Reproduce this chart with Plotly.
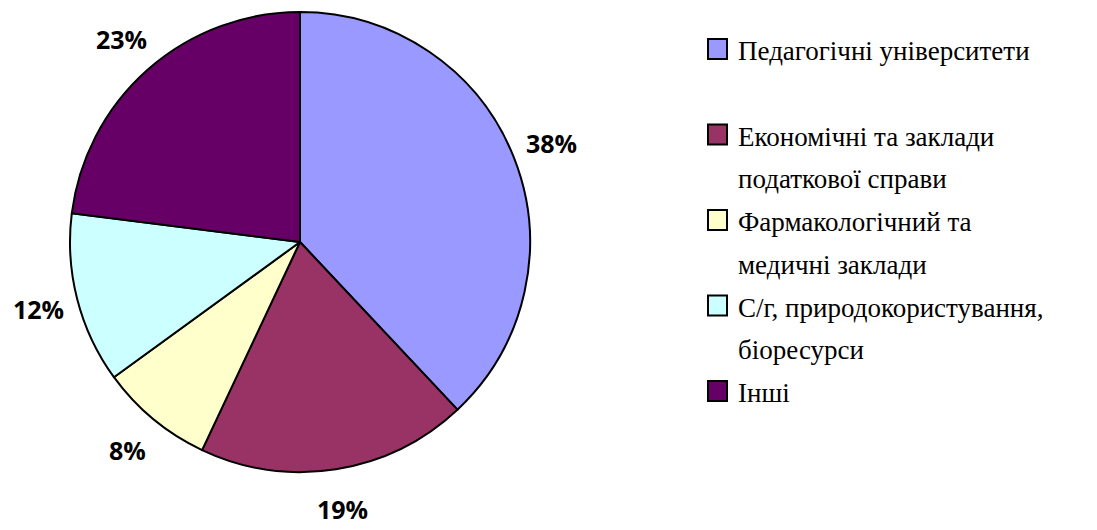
import math
import plotly.graph_objects as go

categories = [
    "Педагогічні університети",
    "Економічні та заклади<br>податкової справи",
    "Фармакологічний та<br>медичні заклади",
    "С/г, природокористування,<br>біоресурси",
    "Інші",
]
values = [38, 19, 8, 12, 23]
colors = ["#9999FF", "#993366", "#FFFFCC", "#CCFFFF", "#660066"]

W, H = 1097, 530
cx, cy, R = 300, 242, 230  # pixel centre/radius (from top-left)
SERIF = "Liberation Serif, Times New Roman, serif"

fig = go.Figure()
fig.add_trace(go.Pie(
    labels=[c.replace("<br>", " ") for c in categories],
    values=values,
    sort=False,
    direction="clockwise",
    rotation=0,
    textinfo="none",
    marker=dict(colors=colors, line=dict(color="#000000", width=2)),
    domain=dict(x=[(cx - R) / W, (cx + R) / W], y=[(H - cy - R) / H, (H - cy + R) / H]),
    showlegend=False,
    hoverinfo="label+percent",
))

annotations = []
shapes = []

# manual legend
line0, step = 49, 42.75
sq_x0, sq_x1 = 708, 727
text_x = 736
for i, (cat, col) in enumerate(zip(categories, colors)):
    slot = 2 * i
    yc = line0 + slot * step
    shapes.append(dict(
        type="rect", xref="paper", yref="paper",
        x0=sq_x0 / W, x1=sq_x1 / W,
        y0=1 - (yc + 10) / H, y1=1 - (yc - 10) / H,
        fillcolor=col, line=dict(color="#000000", width=2),
    ))
    for j, line in enumerate(cat.split("<br>")):
        ly = yc + j * step
        annotations.append(dict(
            x=text_x / W, y=1 - (ly + 2) / H, xref="paper", yref="paper",
            text=line, showarrow=False, xanchor="left", yanchor="middle",
            font=dict(family=SERIF, size=27, color="#000000"),
        ))

# percentage labels outside slices
total = sum(values)
cum = 0
label_r = 270
for v in values:
    mid = (cum + v / 2) / total * 2 * math.pi
    cum += v
    px = cx + label_r * math.sin(mid)
    py = cy - label_r * math.cos(mid)
    annotations.append(dict(
        x=px / W, y=1 - py / H, xref="paper", yref="paper",
        text="<b>%d%%</b>" % round(v / total * 100),
        showarrow=False, xanchor="center", yanchor="middle",
        font=dict(family="Open Sans", size=25, color="#000000"),
    ))

fig.update_layout(
    width=W, height=H,
    margin=dict(l=0, r=0, t=0, b=0),
    font=dict(family=SERIF, color="#000000"),
    paper_bgcolor="#FFFFFF",
    plot_bgcolor="#FFFFFF",
    annotations=annotations,
    shapes=shapes,
)

fig.write_html(
    "out.html",
    config={"displayModeBar": False},
    post_script="document.body.style.margin='0';document.body.style.overflow='hidden';",
)
